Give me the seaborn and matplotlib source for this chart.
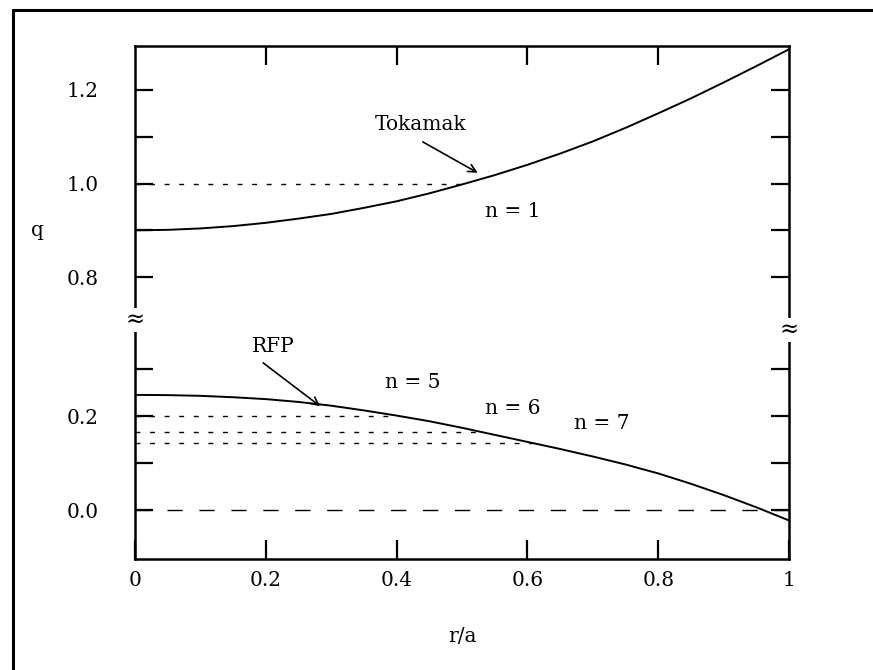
import numpy as np
import pandas as pd
import matplotlib
matplotlib.use("Agg")
import matplotlib.pyplot as plt
from matplotlib.lines import Line2D
import seaborn as sns

# Safety factor profiles q(r/a)
r_over_a = [0.00, 0.05, 0.10, 0.15, 0.20, 0.25, 0.30, 0.35, 0.40, 0.45, 0.50,
            0.55, 0.60, 0.65, 0.70, 0.75, 0.80, 0.85, 0.90, 0.95, 1.00]
q_tokamak = [0.900, 0.901, 0.904, 0.909, 0.916, 0.925, 0.935, 0.948, 0.962, 0.979, 0.998,
             1.018, 1.040, 1.064, 1.090, 1.119, 1.150, 1.182, 1.216, 1.251, 1.287]
q_rfp = [0.245, 0.2445, 0.243, 0.240, 0.236, 0.230, 0.222, 0.212, 0.201, 0.189, 0.175,
         0.160, 0.145, 0.130, 0.114, 0.097, 0.078, 0.056, 0.032, 0.006, -0.022]

# Rational surfaces q = 1/n
tokamak_modes = [1]
rfp_modes = [5, 6, 7]

x_ticks = [0.0, 0.2, 0.4, 0.6, 0.8, 1.0]
x_ticklabels = ["0", "0.2", "0.4", "0.6", "0.8", "1"]
upper_ticks = [0.8, 1.0, 1.2]
upper_ticklabels = ["0.8", "1.0", "1.2"]
lower_ticks = [0.0, 0.2]
lower_ticklabels = ["0.0", "0.2"]

sns.set_theme(style="ticks")
plt.rcParams["font.family"] = ["DejaVu Serif"]
plt.rcParams["axes.linewidth"] = 1.8
plt.rcParams["text.color"] = "black"
plt.rcParams["axes.labelcolor"] = "black"

FS = 14.5
W, H = 873, 670
fig = plt.figure(figsize=(W / 100, H / 100), dpi=100)
fig.patch.set_facecolor("white")

left, right = 135 / W, 789 / W
top_px, brk_px, bot_px = 46, 322, 559
ax_top = fig.add_axes([left, 1 - brk_px / H, right - left, (brk_px - top_px) / H])
ax_bot = fig.add_axes([left, 1 - bot_px / H, right - left, (bot_px - brk_px) / H])

df = pd.DataFrame({"r": r_over_a, "tok": q_tokamak, "rfp": q_rfp})
sns.lineplot(data=df, x="r", y="tok", ax=ax_top, color="black", lw=1.4)
sns.lineplot(data=df, x="r", y="rfp", ax=ax_bot, color="black", lw=1.4)

dot_kw = dict(color="black", lw=1.0, dashes=(3.5, 7.0))
for n in tokamak_modes:
    qn = 1.0 / n
    xc = np.interp(qn, q_tokamak, r_over_a)
    ax_top.plot([0, xc], [qn, qn], **dot_kw)
for n in rfp_modes:
    qn = 1.0 / n
    xc = np.interp(qn, q_rfp[::-1], r_over_a[::-1])
    ax_bot.plot([0, xc], [qn, qn], **dot_kw)

# q = 0 reference
ax_bot.plot([0, 1], [0, 0], color="black", lw=1.0, dashes=(11, 12))

ax_top.set_xlim(0, 1)
ax_bot.set_xlim(0, 1)
ax_top.set_ylim(0.704, 1.294)
ax_bot.set_ylim(-0.104, 0.400)

for ax in (ax_top, ax_bot):
    ax.set_xlabel("")
    ax.set_ylabel("")
    ax.tick_params(axis="both", which="both", direction="in", length=13, width=1.6,
                   labelsize=FS, colors="black")
    ax.tick_params(axis="y", which="both", left=True, right=True, pad=26)
    ax.tick_params(axis="x", which="both", length=14, pad=9)
    for s in ax.spines.values():
        s.set_color("black")

ax_top.spines["bottom"].set_visible(False)
ax_bot.spines["top"].set_visible(False)

ax_top.set_xticks(x_ticks[1:-1])
ax_top.tick_params(axis="x", top=True, bottom=False, labelbottom=False)
ax_bot.set_xticks(x_ticks, labels=x_ticklabels)
ax_bot.tick_params(axis="x", top=False, bottom=True)

ax_top.set_yticks(upper_ticks, labels=upper_ticklabels)
ax_top.set_yticks([0.8, 0.9, 1.0, 1.1, 1.2], minor=True)
ax_bot.set_yticks(lower_ticks, labels=lower_ticklabels)
ax_bot.set_yticks([0.0, 0.1, 0.2, 0.3], minor=True)
for ax in (ax_top, ax_bot):
    ax.tick_params(axis="y", which="both", length=13, width=1.6)

# Axis break marks
brk_kw = dict(fontsize=FS + 2, ha="center", va="center", color="black",
              bbox=dict(boxstyle="square,pad=0.05", fc="white", ec="none"))
fig.text(left, 1 - 320 / H, "≈", **brk_kw)
fig.text(right, 1 - 330 / H, "≈", **brk_kw)

# Annotations
arrow = dict(arrowstyle="->", color="black", lw=1.2, shrinkA=0, shrinkB=0,
             mutation_scale=14)
ax_top.annotate("", xy=(0.524, 1.023), xytext=(0.44, 1.089), arrowprops=arrow)
ax_top.text(0.436, 1.126, "Tokamak", fontsize=FS, ha="center", va="center")
ax_top.text(0.578, 0.94, "n = 1", fontsize=FS, ha="center", va="center")

ax_bot.annotate("", xy=(0.283, 0.221), xytext=(0.196, 0.313), arrowprops=arrow)
ax_bot.text(0.211, 0.347, "RFP", fontsize=FS, ha="center", va="center")
ax_bot.text(0.425, 0.272, "n = 5", fontsize=FS, ha="center", va="center")
ax_bot.text(0.577, 0.217, "n = 6", fontsize=FS, ha="center", va="center")
ax_bot.text(0.714, 0.185, "n = 7", fontsize=FS, ha="center", va="center")

fig.text(37 / W, 1 - 230 / H, "q", fontsize=FS, ha="center", va="center")
fig.text(462 / W, 1 - 636 / H, "r/a", fontsize=FS, ha="center", va="center")

# Outer frame (left and top edges)
fig.add_artist(Line2D([13 / W, 13 / W], [0, 1 - 10 / H], transform=fig.transFigure,
                      color="black", lw=2.2))
fig.add_artist(Line2D([13 / W, 1], [1 - 10 / H, 1 - 10 / H], transform=fig.transFigure,
                      color="black", lw=2.2))

fig.savefig("out.png", dpi=100, facecolor="white")
